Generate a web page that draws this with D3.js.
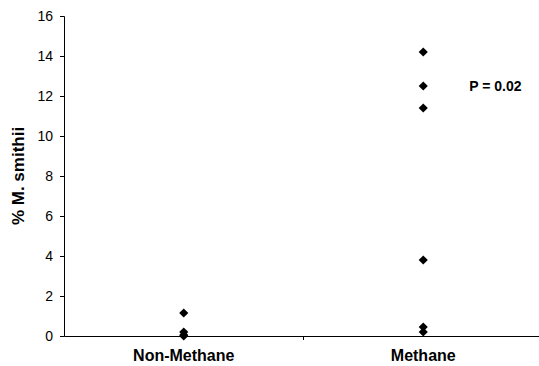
<!DOCTYPE html>
<html>
<head>
<meta charset="utf-8">
<script src="https://cdn.jsdelivr.net/npm/d3@7"></script>
<style>
  body { margin: 0; background: #fff; }
  svg { display: block; font-family: Arial, "Liberation Sans", sans-serif; }
</style>
</head>
<body>
<svg id="chart" width="539" height="366"></svg>
<script>
// data
const groups = ['Non-Methane', 'Methane'];
const nonMethane = [1.15, 0.2, 0.05, 0.0];
const methane = [14.2, 12.5, 11.4, 3.8, 0.45, 0.2];
const yTicks = [0, 2, 4, 6, 8, 10, 12, 14, 16];
const pLabel = 'P = 0.02';

const svg = d3.select('#chart');
const margin = {left: 64, top: 16, right: -4, bottom: 30};
const width = 539 - margin.left - margin.right;
const height = 366 - margin.top - margin.bottom;

const g = svg.append('g')
  .attr('transform', `translate(${margin.left},${margin.top})`);

const x = d3.scaleBand().domain(groups).range([0, width]);
const y = d3.scaleLinear().domain([0, 16]).range([height, 0]);

// y axis
const yAxis = g.append('g')
  .call(d3.axisLeft(y).tickValues(yTicks).tickSize(4).tickPadding(7));
yAxis.select('.domain').attr('stroke', '#000');
yAxis.selectAll('line').attr('stroke', '#000');
yAxis.selectAll('text').attr('font-size', 14).attr('fill', '#000');

// x axis with a tick between the groups
const xAxis = g.append('g')
  .attr('transform', `translate(0,${height})`)
  .call(d3.axisBottom(x).tickSize(0).tickSizeOuter(0).tickPadding(14));
xAxis.select('.domain').attr('stroke', '#000');
xAxis.selectAll('text')
  .attr('font-size', 16).attr('font-weight', 'bold').attr('fill', '#000');
xAxis.append('line')
  .attr('x1', x.step()).attr('x2', x.step())
  .attr('y1', 0).attr('y2', 4)
  .attr('stroke', '#000');

// points
const pts = [
  ...nonMethane.map(v => ({group: groups[0], v})),
  ...methane.map(v => ({group: groups[1], v}))
];
const diamond = d3.symbol().type(d3.symbolSquare).size(42);
g.selectAll('.pt')
  .data(pts)
  .join('path')
  .attr('class', 'pt')
  .attr('d', diamond)
  .attr('transform', d => `translate(${x(d.group) + x.bandwidth() / 2},${y(d.v)}) rotate(45)`)
  .attr('fill', '#000');

// p value
g.append('text')
  .attr('x', x('Methane') + x.bandwidth() / 2 + 46)
  .attr('y', y(12.25))
  .attr('font-size', 14).attr('font-weight', 'bold')
  .text(pLabel);

// y title
svg.append('text')
  .attr('transform', `translate(24,${margin.top + y(8)}) rotate(-90)`)
  .attr('text-anchor', 'middle')
  .attr('font-size', 17).attr('font-weight', 'bold')
  .text('% M. smithii');
</script>
</body>
</html>
